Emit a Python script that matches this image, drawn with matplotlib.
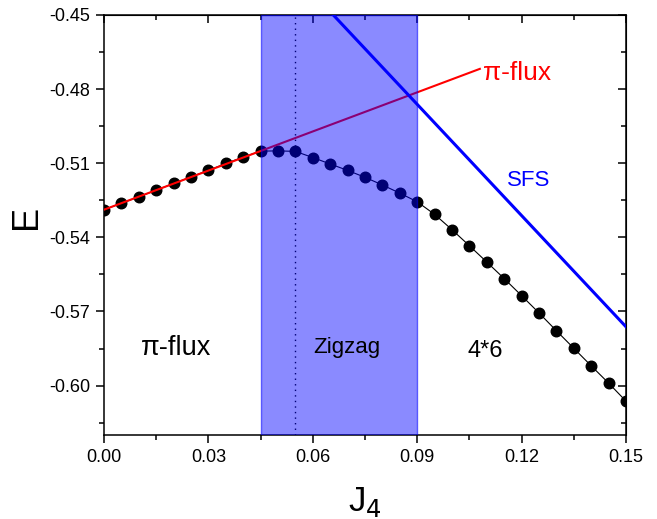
import numpy as np
import matplotlib
matplotlib.use("Agg")
import matplotlib.pyplot as plt
from matplotlib.ticker import MultipleLocator, FormatStrFormatter

plt.rcParams['font.family'] = ['Liberation Sans', 'DejaVu Sans']
plt.rcParams['axes.unicode_minus'] = False

# data
J4 = [0.000, 0.005, 0.010, 0.015, 0.020, 0.025, 0.030, 0.035, 0.040, 0.045,
      0.050, 0.055, 0.060, 0.065, 0.070, 0.075, 0.080, 0.085, 0.090, 0.095,
      0.100, 0.105, 0.110, 0.115, 0.120, 0.125, 0.130, 0.135, 0.140, 0.145, 0.150]
E_4x6 = [-0.5288, -0.5262, -0.5236, -0.5209, -0.5182, -0.5155, -0.5129, -0.5101,
         -0.5075, -0.5051, -0.5050, -0.5052, -0.5077, -0.5103, -0.5129, -0.5157,
         -0.5188, -0.5221, -0.5256, -0.5307, -0.5369, -0.5434, -0.5500, -0.5567,
         -0.5636, -0.5706, -0.5778, -0.5849, -0.5920, -0.5990, -0.6063]
piflux_J = [0.0, 0.108]
piflux_E = [-0.5288, -0.4718]
sfs_J = [0.0659, 0.150]
sfs_E = [-0.4500, -0.5762]
zigzag_range = [0.045, 0.090]
zigzag_mark = 0.055
xticks = [0.00, 0.03, 0.06, 0.09, 0.12, 0.15]
yticks = [-0.60, -0.57, -0.54, -0.51, -0.48, -0.45]

fig = plt.figure(figsize=(6.57, 5.19), dpi=100)
ax = fig.add_axes([104/657, 84/519, 522/657, 420/519])

ax.plot(J4, E_4x6, color='black', lw=0.8, marker='o', ms=7.6, zorder=3)
ax.plot(piflux_J, piflux_E, color='red', lw=1.5, zorder=4)
ax.plot(sfs_J, sfs_E, color='blue', lw=2.2, zorder=4)
ax.axvline(zigzag_mark, color='black', lw=1.0, ls=(0, (1, 3)), zorder=2)
ax.axvspan(zigzag_range[0], zigzag_range[1], facecolor=(0, 0, 1, 0.46),
           edgecolor=(0, 0, 1, 0.55), lw=1.0, zorder=5)

ax.text(0.109, -0.4735, 'π-flux', color='red', fontsize=19, ha='left', va='center', zorder=6)
ax.text(0.1221, -0.5168, 'SFS', color='blue', fontsize=16, ha='center', va='center', zorder=6)
ax.text(0.0207, -0.5846, 'π-flux', color='black', fontsize=19.5, ha='center', va='center', zorder=6)
ax.text(0.0698, -0.5846, 'Zigzag', color='black', fontsize=16, ha='center', va='center', zorder=6)
ax.text(0.1095, -0.5861, '4*6', color='black', fontsize=17, ha='center', va='center', zorder=6)

ax.set_xlim(0, 0.15)
ax.set_ylim(-0.62, -0.45)
ax.set_xticks(xticks)
ax.set_yticks(yticks)
ax.xaxis.set_minor_locator(MultipleLocator(0.015))
ax.yaxis.set_minor_locator(MultipleLocator(0.015))
ax.xaxis.set_major_formatter(FormatStrFormatter('%.2f'))
ax.yaxis.set_major_formatter(FormatStrFormatter('%.2f'))
ax.tick_params(which='major', direction='out', length=5.8, width=1.1, labelsize=13, pad=4)
ax.tick_params(which='minor', direction='out', length=3.3, width=1.1)
for s in ax.spines.values():
    s.set_linewidth(1.1)

secx = ax.secondary_xaxis('top')
secx.set_xticks(xticks)
secx.xaxis.set_minor_locator(MultipleLocator(0.015))
secx.tick_params(which='major', direction='in', length=5.8, width=1.1, labeltop=False)
secx.tick_params(which='minor', direction='in', length=3.3, width=1.1)
secy = ax.secondary_yaxis('right')
secy.set_yticks(yticks)
secy.yaxis.set_minor_locator(MultipleLocator(0.015))
secy.tick_params(which='major', direction='in', length=5.8, width=1.1, labelright=False)
secy.tick_params(which='minor', direction='in', length=3.3, width=1.1)

ax.set_xlabel('J$_4$', fontsize=25)
ax.set_ylabel('E', fontsize=26)
ax.xaxis.set_label_coords(0.5, -0.118)
ax.yaxis.set_label_coords(-0.115, 0.52)

fig.savefig('out.png', dpi=100)
